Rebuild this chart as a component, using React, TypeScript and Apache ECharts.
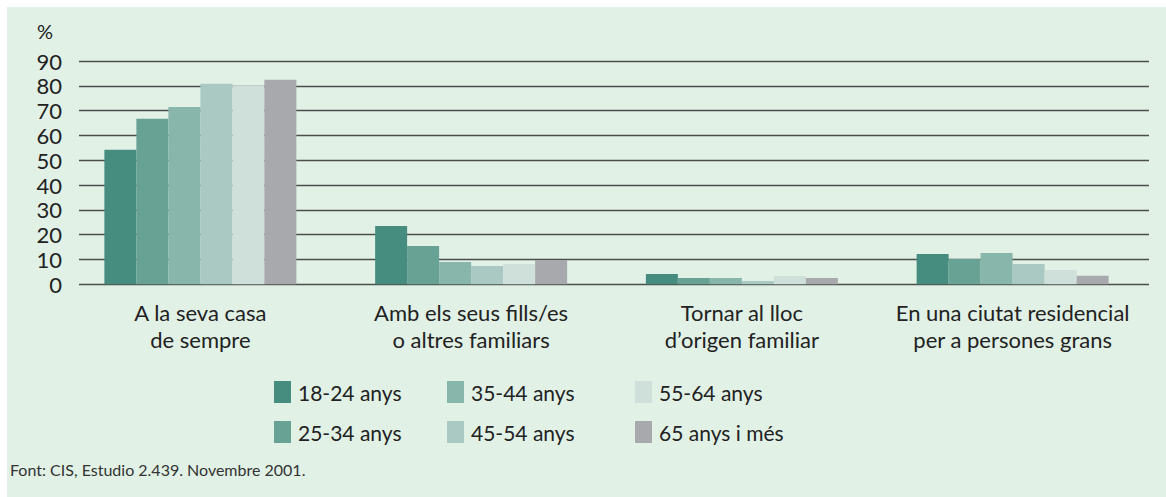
import React, { useEffect, useRef } from "react";
import * as echarts from "echarts";

const categories = [
  "A la seva casa\nde sempre",
  "Amb els seus fills/es\no altres familiars",
  "Tornar al lloc\nd’origen familiar",
  "En una ciutat residencial\nper a persones grans",
];

const seriesNames = [
  "18-24 anys",
  "25-34 anys",
  "35-44 anys",
  "45-54 anys",
  "55-64 anys",
  "65 anys i més",
];

const seriesColors = ["#468d80", "#67a295", "#88b6ab", "#aac9c2", "#cfe0db", "#a8a9ad"];

const values18_24 = [54.2, 23.5, 4.2, 12.2];
const values25_34 = [66.7, 15.4, 2.5, 10.2];
const values35_44 = [71.5, 9.0, 2.5, 12.6];
const values45_54 = [80.8, 7.4, 1.3, 8.2];
const values55_64 = [80.0, 8.2, 3.3, 5.8];
const values65plus = [82.4, 9.8, 2.5, 3.4];

const allValues = [values18_24, values25_34, values35_44, values45_54, values55_64, values65plus];

const yTicks = [0, 10, 20, 30, 40, 50, 60, 70, 80, 90];

const FONT = "Lato, 'Open Sans', sans-serif";

export default function App() {
  const ref = useRef<HTMLDivElement>(null);

  useEffect(() => {
    if (!ref.current) return;
    const chart = echarts.init(ref.current, null, { renderer: "svg" });

    const legendCols = [
      { left: 267, names: [seriesNames[0], seriesNames[1]] },
      { left: 440, names: [seriesNames[2], seriesNames[3]] },
      { left: 628, names: [seriesNames[4], seriesNames[5]] },
    ];

    chart.setOption({
      animation: false,
      backgroundColor: "#e1f1e6",
      grid: [
        { left: 58, right: 18, top: 54, height: 223.3, containLabel: false },
        { left: 72, right: 17, top: 54, height: 223.3, containLabel: false },
      ],
      xAxis: [
        {
          type: "category",
          gridIndex: 0,
          data: categories,
          axisLine: { show: false },
          axisTick: { show: false },
          axisLabel: {
            interval: 0,
            fontFamily: FONT,
            fontSize: 22,
            color: "#222",
            lineHeight: 27,
            margin: 15,
          },
        },
        {
          type: "category",
          gridIndex: 1,
          data: categories,
          show: false,
        },
      ],
      yAxis: [
        {
          type: "value",
          gridIndex: 0,
          min: 0,
          max: 90,
          interval: 10,
          show: false,
          splitLine: { show: false },
        },
        {
          type: "value",
          gridIndex: 1,
          min: 0,
          max: 90,
          interval: 10,
          axisLine: { show: false },
          axisTick: { show: false },
          axisLabel: {
            fontFamily: FONT,
            fontSize: 22,
            lineHeight: 22,
            color: "#222",
            margin: 17,
            formatter: (v: number) => (yTicks.includes(v) ? String(v) : ""),
          },
          splitLine: { show: true, lineStyle: { color: "#4a4f4b", width: 1.4 } },
        },
      ],
      legend: legendCols.map((c) => ({
        orient: "vertical",
        left: c.left,
        top: 374,
        padding: 0,
        itemWidth: 17,
        itemHeight: 22,
        itemGap: 18,
        icon: "rect",
        selectedMode: false,
        data: c.names,
        textStyle: {
          fontFamily: FONT,
          fontSize: 21,
          color: "#222",
          padding: [0, 0, 0, 2],
        },
      })),
      graphic: [
        {
          type: "text",
          left: 30,
          top: 14,
          style: { text: "%", fontFamily: FONT, fontSize: 20, fill: "#222" },
        },
        {
          type: "text",
          left: 3,
          top: 454,
          style: {
            text: "Font: CIS, Estudio 2.439. Novembre 2001.",
            fontFamily: FONT,
            fontSize: 16,
            fill: "#333",
          },
        },
      ],
      series: seriesNames.map((name, i) => ({
        name,
        type: "bar",
        xAxisIndex: 0,
        yAxisIndex: 0,
        barWidth: 32,
        barGap: "0%",
        itemStyle: { color: seriesColors[i] },
        data: allValues[i],
      })),
    });

    return () => chart.dispose();
  }, []);

  return (
    <div
      ref={ref}
      style={{ position: "fixed", left: 7, top: 7, width: 1159, height: 490 }}
    />
  );
}
